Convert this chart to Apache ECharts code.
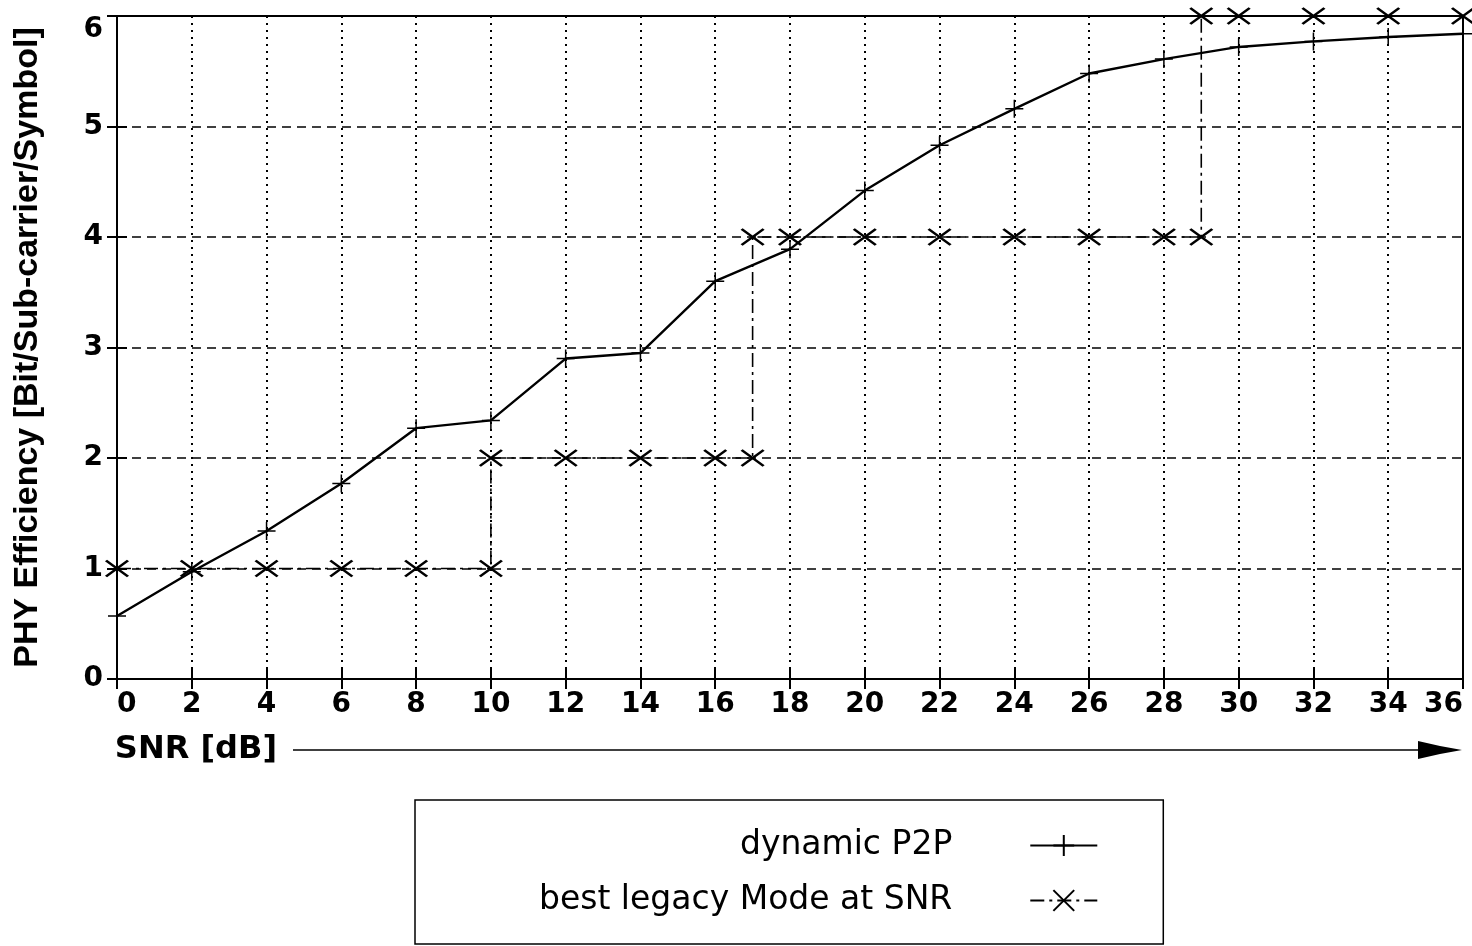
<!DOCTYPE html>
<html>
<head>
<meta charset="utf-8">
<script src="https://cdn.jsdelivr.net/npm/echarts@6/dist/echarts.min.js"></script>
<style>
html,body{margin:0;padding:0;background:#fff;}
#chart{width:1472px;height:946px;}
</style>
</head>
<body>
<div id="chart"></div>
<script>
// ---- data ----
const snrTicks = [0,2,4,6,8,10,12,14,16,18,20,22,24,26,28,30,32,34,36];
const dynamicSnr = [0,2,4,6,8,10,12,14,16,18,20,22,24,26,28,30,32,34,36];
const dynamicP2P = [0.57,0.97,1.34,1.77,2.27,2.34,2.90,2.95,3.60,3.89,4.42,4.83,5.16,5.48,5.61,5.72,5.77,5.81,5.84];
const legacySnr  = [0,2,4,6,8,10,10,12,14,16,17,17,18,20,22,24,26,28,29,29,30,32,34,36];
const legacyMode = [1,1,1,1,1,1,2,2,2,2,2,4,4,4,4,4,4,4,4,6,6,6,6,6];
const yTicks = [0,1,2,3,4,5,6];
const seriesNames = ['dynamic P2P','best legacy Mode at SNR'];
const xName = 'SNR [dB]';
const yName = 'PHY Efficiency [Bit/Sub-carrier/Symbol]';

const plusPath = 'path://M0,10L20,10M10,0L10,20';
const crossPath = 'path://M0,0L20,20M20,0L0,20';

const chart = echarts.init(document.getElementById('chart'), null, {renderer:'canvas'});
const tickFont = {fontFamily:'DejaVu Sans', fontWeight:'bold', fontSize:28, color:'#000'};

const option = {
  animation:false,
  backgroundColor:'#fff',
  grid:{left:117, right:9, top:16, bottom:267, containLabel:false, outerBoundsMode:'none',
        show:true, borderColor:'#000', borderWidth:2, backgroundColor:'transparent'},
  legend:{
    orient:'vertical', align:'right', left:415, top:800,
    itemWidth:67, itemHeight:26, itemGap:22,
    padding:[29,65,27,124],
    borderColor:'#000', borderWidth:1.5, borderRadius:0,
    selectedMode:false,
    textStyle:{fontFamily:'DejaVu Sans', fontSize:33, color:'#000', padding:[0,73,0,0]},
    data:seriesNames
  },
  xAxis:[{
    type:'value', min:0, max:36, interval:2,
    name:xName, nameLocation:'start', nameGap:-160, nameMoveOverlap:false,
    nameTextStyle:{fontFamily:'DejaVu Sans', fontWeight:'bold', fontSize:32, color:'#000',
      verticalAlign:'top', padding:[55,0,0,0]},
    axisLine:{show:true, lineStyle:{color:'#000', width:2}},
    axisTick:{show:true, inside:true, length:10, lineStyle:{color:'#000', width:2}},
    axisLabel:Object.assign({margin:12, alignMinLabel:'left', alignMaxLabel:'right',
      formatter:function(v){return snrTicks.indexOf(v)>=0 ? String(v) : '';}}, tickFont),
    splitLine:{show:true, lineStyle:{color:'#000', width:2, type:[2,5]}}
  },{
    type:'value', min:0, max:36, interval:2, position:'top',
    axisLine:{show:true, lineStyle:{color:'#000', width:2}},
    axisTick:{show:true, inside:true, length:10, lineStyle:{color:'#000', width:2}},
    axisLabel:{show:false}, splitLine:{show:false}
  }],
  yAxis:[{
    type:'value', min:0, max:6, interval:1,
    name:yName, nameLocation:'middle', nameGap:72, nameMoveOverlap:false,
    nameTextStyle:{fontFamily:'Liberation Sans', fontWeight:'bold', fontSize:34, color:'#000'},
    axisLine:{show:true, lineStyle:{color:'#000', width:2}},
    axisTick:{show:true, inside:true, length:10, lineStyle:{color:'#000', width:2}},
    axisLabel:Object.assign({margin:14, verticalAlignMaxLabel:'top',
      formatter:function(v){return yTicks.indexOf(v)>=0 ? String(v) : '';}}, tickFont),
    splitLine:{show:true, lineStyle:{color:'#000', width:1.5, type:[9,6]}}
  },{
    type:'value', min:0, max:6, interval:1, position:'right',
    axisLine:{show:true, lineStyle:{color:'#000', width:2}},
    axisTick:{show:true, inside:true, length:10, lineStyle:{color:'#000', width:2}},
    axisLabel:{show:false}, splitLine:{show:false}
  }],
  series:[{
    name:seriesNames[0], type:'line', xAxisIndex:0, yAxisIndex:0,
    data:dynamicSnr.map(function(x,i){return [x, dynamicP2P[i]];}),
    color:'#000',
    symbol:plusPath, symbolSize:18,
    itemStyle:{color:'#000', borderColor:'#000', borderWidth:1.5},
    lineStyle:{color:'#000', width:2.4, type:'solid'},
    z:5
  },{
    name:seriesNames[1], type:'line', xAxisIndex:0, yAxisIndex:0,
    data:legacySnr.map(function(x,i){return [x, legacyMode[i]];}),
    color:'#000',
    symbol:crossPath, symbolSize:[22,16],
    itemStyle:{color:'#000', borderColor:'#000', borderWidth:2.5},
    lineStyle:{color:'#000', width:1.6, type:[14,5,3,5]},
    z:4
  }],
  graphic:[{
    type:'line', shape:{x1:293, y1:750, x2:1422, y2:750}, style:{stroke:'#000', lineWidth:1.5}
  },{
    type:'polygon', shape:{points:[[1418,741],[1440,746],[1462,750],[1440,754],[1418,759]]}, style:{fill:'#000'}
  }]
};
chart.setOption(option);
</script>
</body>
</html>
